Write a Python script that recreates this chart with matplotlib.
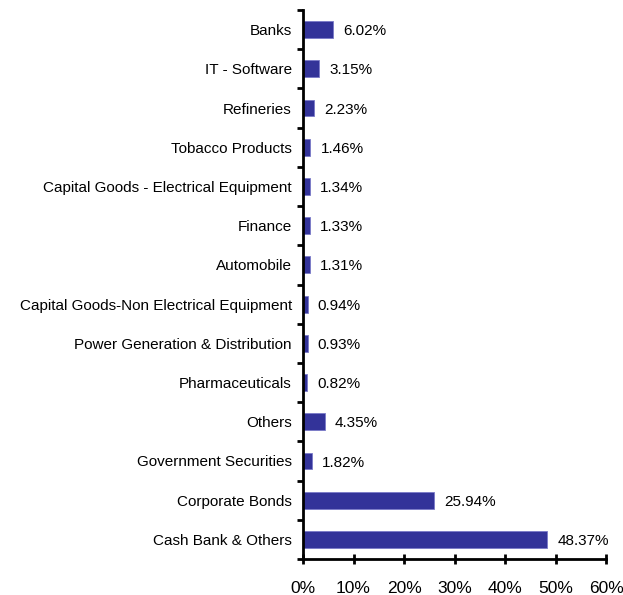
import numpy as np
import matplotlib.pyplot as plt

plt.rcParams['font.family'] = ['Liberation Sans', 'DejaVu Sans']

# sector / asset allocation, top to bottom
sectors = ['Banks', 'IT - Software', 'Refineries', 'Tobacco Products',
           'Capital Goods - Electrical Equipment', 'Finance', 'Automobile',
           'Capital Goods-Non Electrical Equipment', 'Power Generation & Distribution',
           'Pharmaceuticals', 'Others', 'Government Securities',
           'Corporate Bonds', 'Cash Bank & Others']
weights = [6.02, 3.15, 2.23, 1.46, 1.34, 1.33, 1.31, 0.94, 0.93, 0.82,
           4.35, 1.82, 25.94, 48.37]
xticks = [0, 10, 20, 30, 40, 50, 60]

fig = plt.figure(figsize=(6.23, 5.95), dpi=100)
ax = fig.add_axes([303/623, 1 - 559/595, 303/623, 549/595])

pos = np.arange(len(sectors))
ax.barh(pos, weights, height=0.43, color='#333399', edgecolor='#7a7ac8', linewidth=0.6)

for p, w in zip(pos, weights):
    ax.text(w + 2.0, p + 0.04, '%.2f%%' % w, va='center', ha='left', fontsize=11)

ax.set_xlim(0, 60)
ax.set_ylim(len(sectors) - 0.5, -0.5)

# labels sit at the bar centres, tick marks between categories
ax.set_yticks(np.arange(-0.5, len(sectors)), labels=[])
ax.set_yticks(pos, labels=sectors, minor=True)
ax.tick_params(axis='y', which='major', direction='out', length=4, width=2)
ax.tick_params(axis='y', which='minor', length=0, pad=8, labelsize=11)

ax.set_xticks(xticks, labels=['%d%%' % t for t in xticks])
ax.tick_params(axis='x', direction='inout', length=7, width=2, pad=12, labelsize=12.5)

for s in ['top', 'right']:
    ax.spines[s].set_visible(False)
for s in ['left', 'bottom']:
    ax.spines[s].set_linewidth(2)

fig.savefig('out.png', dpi=100)
